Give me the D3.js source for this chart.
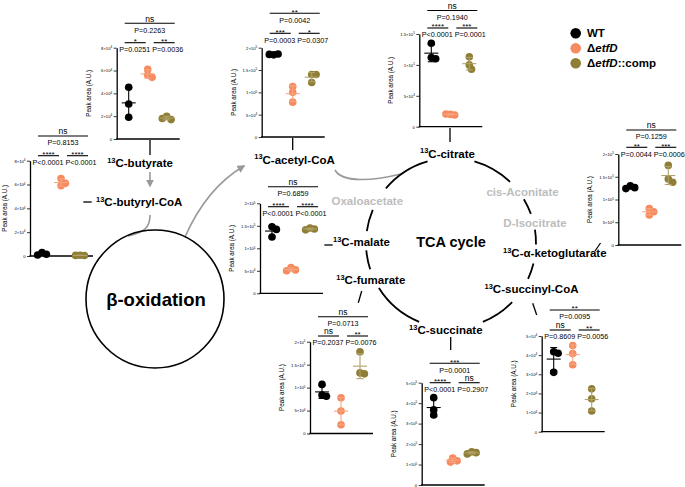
<!DOCTYPE html>
<html>
<head>
<meta charset="utf-8">
<script src="https://cdn.jsdelivr.net/npm/d3@7"></script>
<style>
  body { margin: 0; background: #fff; }
  svg { display: block; font-family: "Liberation Sans", Arial, Helvetica, sans-serif; }
</style>
</head>
<body>
<svg id="chart" width="685" height="487"></svg>
<script>
// groups
const groups = ["WT", "ΔetfD", "ΔetfD::comp"];
const dotColors = ["#000000", "#F78A5E", "#8F7E36"];
const barColors = ["#000000", "#F5A683", "#B0A36A"];

// peak areas, 3 replicates per group
const butyrylCoA = [[3000, 1500, 800], [65000, 59000, 61000], [600, 400, 500]];
const butyrate = [[45300, 30700, 19000], [61000, 56000, 54000], [20000, 17000, 18000]];
const acetylCoA = [[184000, 186000, 185000], [113000, 100000, 78000], [140000, 140000, 122000]];
const citrate = [[135000, 112000, 110000], [20000, 19000, 20500], [113000, 100000, 93000]];
const malate = [[148000, 142000, 125000], [57000, 52000, 50000], [145000, 143000, 141000]];
const ketoglutarate = [[130000, 126000, 124000], [80000, 73000, 66000], [175000, 145000, 138000]];
const fumarate = [[107000, 84000, 81000], [78000, 49000, 19000], [178000, 132000, 130000]];
const succinate = [[427000, 367000, 342000], [132000, 118000, 112000], [162000, 158000, 152000]];
const succinylCoA = [[41800, 41000, 31000], [45000, 40800, 35000], [22400, 17200, 10800]];

// y ticks
const ticks8e4 = [0, 2e4, 4e4, 6e4, 8e4];
const ticks2e5 = [0, 5e4, 1e5, 1.5e5, 2e5];
const ticks15e5 = [0, 5e4, 1e5, 1.5e5];
const ticks5e5 = [0, 1e5, 2e5, 3e5, 4e5, 5e5];
const ticks5e4 = [0, 1e4, 2e4, 3e4, 4e4, 5e4];

// significance: [WT vs comp], [WT vs ΔetfD], [ΔetfD vs comp]
const butyrylCoASig = [["ns", "P=0.8153"], ["****", "P<0.0001"], ["****", "P<0.0001"]];
const butyrateSig = [["ns", "P=0.2263"], ["*", "P=0.0251"], ["**", "P=0.0036"]];
const acetylCoASig = [["**", "P=0.0042"], ["***", "P=0.0003"], ["*", "P=0.0307"]];
const citrateSig = [["ns", "P=0.1940"], ["****", "P<0.0001"], ["***", "P=0.0001"]];
const malateSig = [["ns", "P=0.6859"], ["****", "P<0.0001"], ["****", "P<0.0001"]];
const ketoglutarateSig = [["ns", "P=0.1259"], ["**", "P=0.0044"], ["***", "P=0.0006"]];
const fumarateSig = [["ns", "P=0.0713"], ["ns", "P=0.2037"], ["**", "P=0.0076"]];
const succinateSig = [["***", "P=0.0001"], ["****", "P<0.0001"], ["ns", "P=0.2907"]];
const succinylCoASig = [["**", "P=0.0095"], ["ns", "P=0.8609"], ["**", "P=0.0056"]];

const svg = d3.select("#chart");
const FONT = '"Liberation Sans", Arial, Helvetica, sans-serif';

// 面板位置
const boxes = {
  butyrylCoA: { x0: 30, yTop: 160.7, yBot: 256, upper: 136, lower: 155.7, lab: 23 },
  butyrate: { x0: 116.7, yTop: 47.7, yBot: 139, upper: 23.3, lower: 42.7 },
  acetylCoA: { x0: 261.7, yTop: 47.7, yBot: 137, upper: 13.3, lower: 33.3 },
  citrate: { x0: 419.3, yTop: 34, yBot: 126.7, upper: 10.5, lower: 28 },
  malate: { x0: 260, yTop: 203.3, yBot: 293.3, upper: 186.7, lower: 206.7 },
  ketoglutarate: { x0: 618.3, yTop: 154, yBot: 245, upper: 130, lower: 147.3 },
  fumarate: { x0: 310, yTop: 341.7, yBot: 433.5, upper: 316.7, lower: 336 },
  succinate: { x0: 421.7, yTop: 382.7, yBot: 485, upper: 363.3, lower: 382.7 },
  succinylCoA: { x0: 541.7, yTop: 336, yBot: 431.7, upper: 310, lower: 330 }
};

function drawPanel(values, ticks, sig, box) {
  const g = svg.append("g");
  const y = d3.scaleLinear().domain([0, d3.max(ticks)]).range([box.yBot, box.yTop]);
  const x = d3.scalePoint().domain(groups).range([box.x0 + 12, box.x0 + 50]);

  // y轴
  const ax = g.append("g")
    .attr("transform", `translate(${box.x0},0)`)
    .call(d3.axisLeft(y).tickValues(ticks).tickSize(3).tickSizeOuter(0).tickPadding(1.5));
  ax.attr("font-family", FONT);
  ax.select(".domain").attr("stroke-width", 1.3);
  ax.selectAll(".tick line").attr("stroke-width", 0.8);
  ax.selectAll(".tick text")
    .attr("font-size", 4.2)
    .each(function(d) {
      const t = d3.select(this).text(null);
      if (d === 0) { t.text("0"); return; }
      const e = Math.floor(Math.log10(d) + 1e-9);
      const m = +(d / Math.pow(10, e)).toFixed(2);
      t.append("tspan").text(m + "×10");
      t.append("tspan").attr("font-size", 3).attr("dy", -1.6).text(e);
    });

  // x轴
  g.append("line")
    .attr("x1", box.x0 - 0.6).attr("x2", box.x0 + 63)
    .attr("y1", box.yBot).attr("y2", box.yBot)
    .attr("stroke", "#000").attr("stroke-width", 1.3);

  // y轴标题
  g.append("text")
    .attr("transform", `translate(${box.x0 - (box.lab || 26)},${(box.yTop + box.yBot) / 2}) rotate(-90)`)
    .attr("text-anchor", "middle")
    .attr("font-size", 6.3)
    .text("Peak area (A.U.)");

  // 数据点
  groups.forEach((grp, i) => {
    const cx = x(grp);
    const placed = [];
    values[i].forEach(v => {
      const cy = y(v);
      const offs = [0, 2.2, -2.2, 4.4, -4.4, 6.6, -6.6];
      let off = offs.find(o => placed.every(p => Math.hypot(p[0] - o, p[1] - cy) >= 4.4));
      if (off === undefined) off = 0;
      placed.push([off, cy]);
      g.append("circle")
        .attr("cx", cx + off).attr("cy", cy).attr("r", 3.8)
        .attr("fill", dotColors[i]);
    });

    const m = d3.mean(values[i]);
    const sd = d3.deviation(values[i]);
    const bar = g.append("g").attr("stroke", barColors[i]).attr("stroke-width", 1.1);
    bar.append("line").attr("x1", cx).attr("x2", cx).attr("y1", y(m - sd)).attr("y2", y(m + sd));
    bar.append("line").attr("x1", cx - 3.5).attr("x2", cx + 3.5).attr("y1", y(m - sd)).attr("y2", y(m - sd));
    bar.append("line").attr("x1", cx - 3.5).attr("x2", cx + 3.5).attr("y1", y(m + sd)).attr("y2", y(m + sd));
    bar.append("line").attr("x1", cx - 7).attr("x2", cx + 7).attr("y1", y(m)).attr("y2", y(m));
  });

  // 显著性标注
  const brackets = [
    { x1: box.x0 + 8, x2: box.x0 + 58, y: box.upper, tx: box.x0 + 33, s: sig[0] },
    { x1: box.x0 + 8, x2: box.x0 + 29, y: box.lower, tx: box.x0 + 18, s: sig[1] },
    { x1: box.x0 + 37, x2: box.x0 + 58, y: box.lower, tx: box.x0 + 51, s: sig[2] }
  ];
  brackets.forEach(b => {
    g.append("line")
      .attr("x1", b.x1).attr("x2", b.x2).attr("y1", b.y).attr("y2", b.y)
      .attr("stroke", "#000").attr("stroke-width", 1.1);
    const isNs = b.s[0] === "ns";
    g.append("text")
      .attr("x", (b.x1 + b.x2) / 2)
      .attr("y", isNs ? b.y - 1.6 : b.y + 1.2)
      .attr("text-anchor", "middle")
      .attr("font-size", isNs ? 8.5 : 8)
      .text(b.s[0]);
    g.append("text")
      .attr("x", b.tx).attr("y", b.y + 9.2)
      .attr("text-anchor", "middle")
      .attr("font-size", 7.2)
      .text(b.s[1]);
  });
}

drawPanel(butyrylCoA, ticks8e4, butyrylCoASig, boxes.butyrylCoA);
drawPanel(butyrate, ticks8e4, butyrateSig, boxes.butyrate);
drawPanel(acetylCoA, ticks2e5, acetylCoASig, boxes.acetylCoA);
drawPanel(citrate, ticks15e5, citrateSig, boxes.citrate);
drawPanel(malate, ticks2e5, malateSig, boxes.malate);
drawPanel(ketoglutarate, ticks2e5, ketoglutarateSig, boxes.ketoglutarate);
drawPanel(fumarate, ticks2e5, fumarateSig, boxes.fumarate);
drawPanel(succinate, ticks5e5, succinateSig, boxes.succinate);
drawPanel(succinylCoA, ticks5e4, succinylCoASig, boxes.succinylCoA);

// 箭头
svg.append("defs").append("marker")
  .attr("id", "arrow").attr("viewBox", "0 0 10 10")
  .attr("refX", 8).attr("refY", 5)
  .attr("markerWidth", 5).attr("markerHeight", 5)
  .attr("markerUnits", "strokeWidth")
  .attr("orient", "auto")
  .append("path").attr("d", "M0,0 L10,5 L0,10 Z").attr("fill", "#999");

const flow = svg.append("g").attr("fill", "none").attr("stroke", "#999").attr("stroke-width", 1.6);
flow.append("path").attr("d", "M150,172 L150,186").attr("marker-end", "url(#arrow)");
flow.append("path").attr("d", "M150,215 C150,228 144,232 128,236");
flow.append("path").attr("d", "M185,237 C200,203 220,180 244,166").attr("marker-end", "url(#arrow)");
flow.append("path").attr("d", "M335,170 C342,183 372,181 401,174");

// 连接短线
const conn = svg.append("g").attr("stroke", "#000").attr("stroke-width", 1.3);
[[150, 140, 150, 155], [292.7, 138, 292.7, 150], [450, 128, 450, 142],
 [83.3, 202, 91.7, 202], [324.3, 245, 332.7, 245], [595, 251, 600.5, 243],
 [532.7, 303.3, 536.7, 315], [450.7, 337, 450.7, 350], [361.7, 291, 358.3, 302.7]]
  .forEach(d => conn.append("line").attr("x1", d[0]).attr("y1", d[1]).attr("x2", d[2]).attr("y2", d[3]));

// β-oxidation
svg.append("circle").attr("cx", 155).attr("cy", 299).attr("r", 69)
  .attr("fill", "none").attr("stroke", "#000").attr("stroke-width", 1.6);
svg.append("text").attr("x", 156).attr("y", 306).attr("text-anchor", "middle")
  .attr("font-size", 18.5).attr("font-weight", "bold").text("β-oxidation");

// TCA 环
const tcaArcs = [[-74, -46], [-31, -20], [-9, 1], [14, 25], [44, 68], [112, 148], [162, 175], [188, 203], [220, 254]];
tcaArcs.forEach(a => {
  const p = d3.path();
  const a0 = a[0] * Math.PI / 180, a1 = a[1] * Math.PI / 180;
  p.moveTo(451 + 85 * Math.cos(a0), 243 + 85 * Math.sin(a0));
  p.arc(451, 243, 85, a0, a1);
  svg.append("path").attr("d", p.toString())
    .attr("fill", "none").attr("stroke", "#000").attr("stroke-width", 1.8);
});
svg.append("text").attr("x", 451).attr("y", 247).attr("text-anchor", "middle")
  .attr("font-size", 14.5).attr("font-weight", "bold").text("TCA cycle");

function metLabel(x, y, main, anchor, color) {
  const t = svg.append("text").attr("x", x).attr("y", y).attr("text-anchor", anchor)
    .attr("font-size", 11.5).attr("font-weight", "bold").attr("fill", color || "#000");
  if (!color) {
    t.append("tspan").attr("font-size", 7.5).attr("dy", -4.2).text("13");
    t.append("tspan").attr("dy", 4.2).text(main);
  } else {
    t.text(main);
  }
}
metLabel(173, 167.3, "C-butyrate", "end");
metLabel(96, 206, "C-butyryl-CoA", "start");
metLabel(294.5, 163.5, "C-acetyl-CoA", "middle");
metLabel(447.5, 157.5, "C-citrate", "middle");
metLabel(522.5, 195.7, "cis-Aconitate", "middle", "#BDBDBD");
metLabel(535, 226.7, "D-Isocitrate", "middle", "#BDBDBD");
metLabel(503, 257.3, "C-α-ketoglutarate", "start");
metLabel(531.5, 293.3, "C-succinyl-CoA", "middle");
metLabel(445.8, 334, "C-succinate", "middle");
metLabel(370.8, 284, "C-fumarate", "middle");
metLabel(333, 245.7, "C-malate", "start");
metLabel(367.3, 205, "Oxaloacetate", "middle", "#BDBDBD");

// 图例
const legend = svg.append("g").attr("font-size", 11.5).attr("font-weight", "bold");
groups.forEach((grp, i) => {
  const ly = 33.3 + i * 15;
  legend.append("circle").attr("cx", 575.7).attr("cy", ly).attr("r", 5.3).attr("fill", dotColors[i]);
  const t = legend.append("text").attr("x", 587).attr("y", ly + 4);
  if (i === 0) {
    t.text(grp);
  } else {
    t.append("tspan").text("Δ");
    t.append("tspan").attr("font-style", "italic").text("etfD");
    if (i === 2) t.append("tspan").text("::comp");
  }
});
</script>
</body>
</html>
